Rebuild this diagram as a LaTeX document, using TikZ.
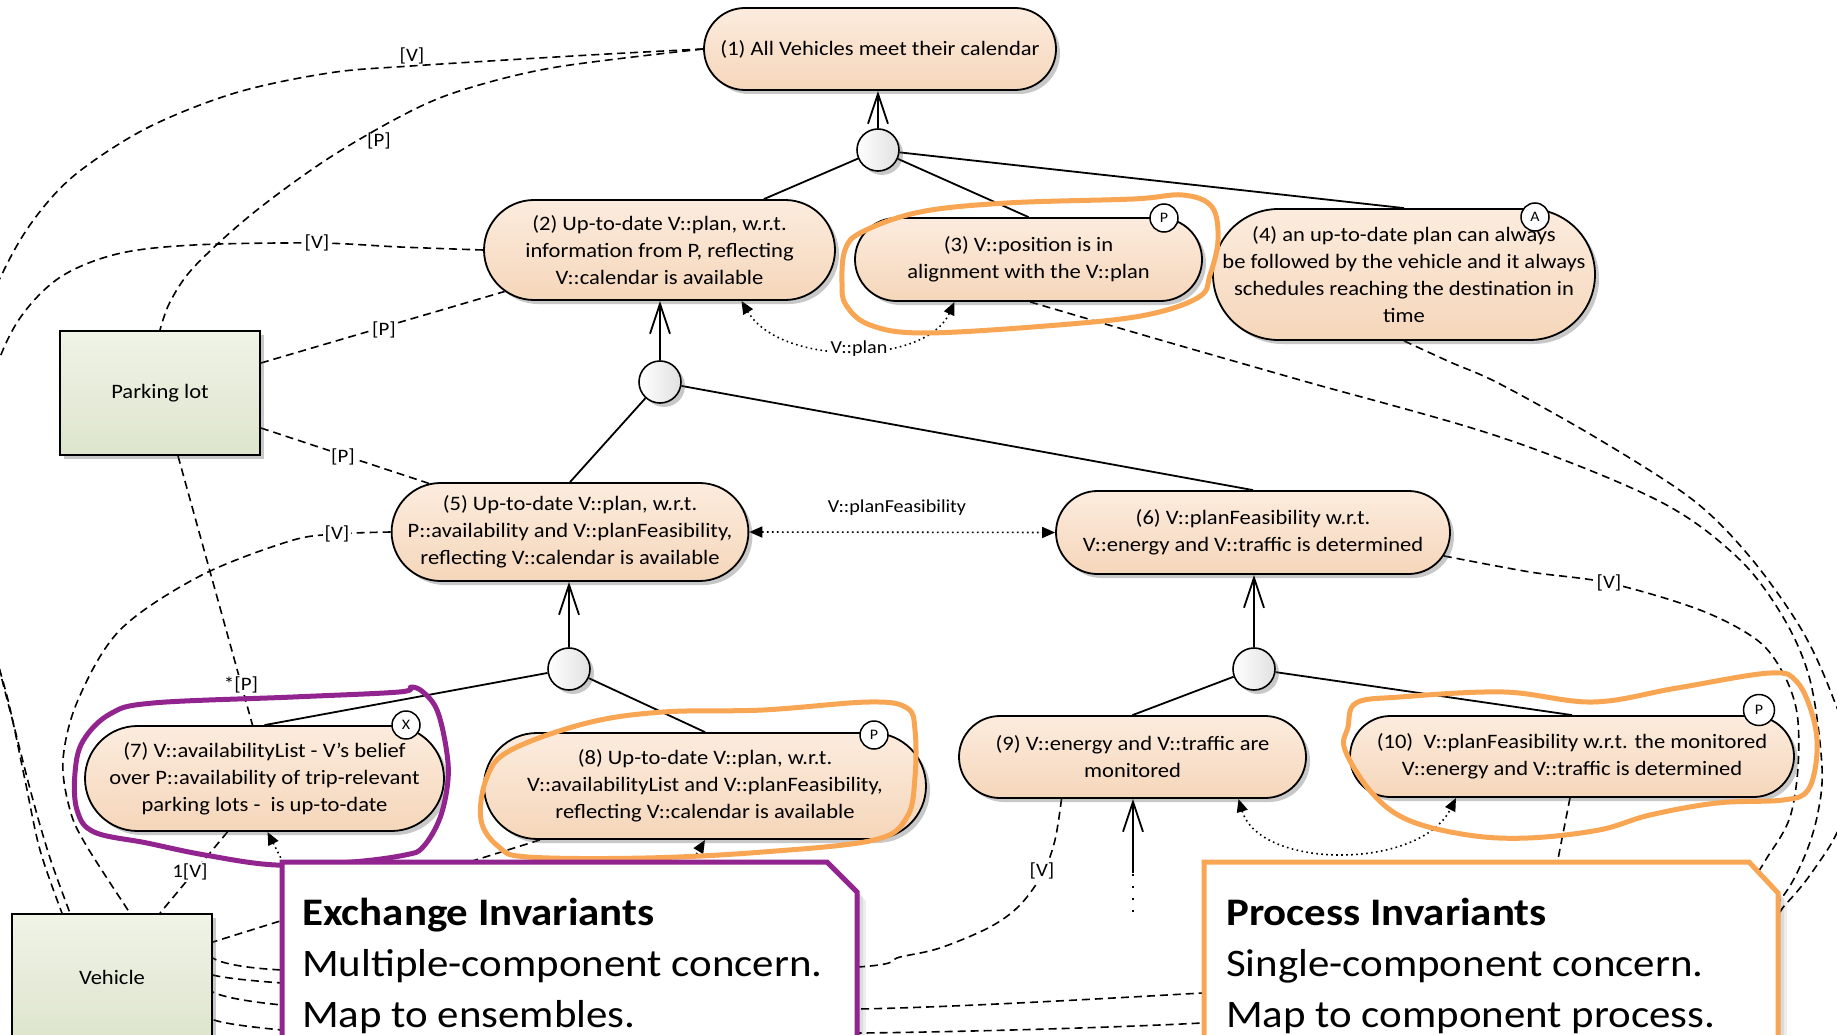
\documentclass[tikz,border=0pt]{standalone}
\usepackage{fontspec}
\setmainfont{Carlito}[FakeStretch=1.1]
\usetikzlibrary{arrows.meta,shapes.misc,shadows}

\definecolor{nodetop}{RGB}{252,236,222}
\definecolor{nodebot}{RGB}{245,214,186}
\definecolor{comptop}{RGB}{240,243,231}
\definecolor{compbot}{RGB}{221,229,205}
\definecolor{hlorange}{RGB}{248,166,84}
\definecolor{hlpurple}{RGB}{146,36,143}

\pgfdeclarelayer{canvas}
\pgfdeclarelayer{links}
\pgfsetlayers{canvas,links,main}

\tikzset{
  softshadow/.style={drop shadow={shadow xshift=4pt,shadow yshift=-4pt,opacity=.3,fill=black!70}},
  inv/.style={rounded rectangle, draw=black, line width=1.8pt, top color=nodetop, bottom color=nodebot,
    align=center, inner sep=0pt, font=\fontsize{20.5}{27}\selectfont, softshadow},
  orcirc/.style={circle, draw=black, line width=1.6pt, minimum size=42pt, inner sep=0pt,
    left color=white, right color=black!12, softshadow},
  badge/.style={circle, draw=black, line width=1.5pt, fill=white, minimum size=28pt, inner sep=0pt,
    font=\fontsize{14.5}{15}\selectfont},
  comp/.style={rectangle, draw=black, line width=1.8pt, top color=comptop, bottom color=compbot,
    minimum width=200pt, inner sep=0pt, font=\fontsize{20.5}{24}\selectfont, softshadow},
  andlink/.style={line width=1.8pt},
  refine/.style={line width=1.8pt, -{Straight Barb[length=30pt,width=20pt]}},
  vlink/.style={line width=1.6pt, dash pattern=on 8pt off 5pt},
  flow/.style={line width=1.6pt, dash pattern=on 1.6pt off 3.4pt,
    {Triangle[length=13pt,width=11pt]}-{Triangle[length=13pt,width=11pt]}},
  flowin/.style={line width=1.6pt, dash pattern=on 1.6pt off 3.4pt, -{Triangle[length=13pt,width=11pt]}},
  lbl/.style={font=\fontsize{19}{19}\selectfont, inner sep=1.5pt},
  lblw/.style={lbl, fill=white},
  slbl/.style={font=\fontsize{18.3}{18}\selectfont, inner sep=1.5pt},
  hl/.style={line width=5pt, line join=round, line cap=round},
  callout/.style={line width=5pt, fill=white, line join=miter},
  big/.style={font=\fontsize{39}{51}\selectfont, inner sep=0pt, anchor=base west},
}

\begin{document}
\begin{tikzpicture}[x=1pt,y=-1pt]
\useasboundingbox (0,0) rectangle (1837,1035);
\begin{pgfonlayer}{canvas}
  \fill[white] (0,0) rectangle (1837,1035);
\end{pgfonlayer}

% ---------------- goals ----------------
\node[inv, minimum width=352pt, minimum height=82pt] (n1) at (880,49) {(1) All Vehicles meet their calendar};
\node[inv, minimum width=351pt, minimum height=100pt] (n2) at (659.5,250) {(2) Up-to-date V::plan, w.r.t.\\information from P, reflecting\\V::calendar is available};
\node[inv, minimum width=347pt, minimum height=83pt] (n3) at (1028.5,259.5) {(3) V::position is in\\alignment with the V::plan};
\node[inv, rectangle, rounded corners=65.5pt, minimum width=382pt, minimum height=131pt] (n4) at (1404,274.5) {(4) an up-to-date plan can always\\be followed by the vehicle and it always\\schedules reaching the destination in\\time};
\node[inv, minimum width=352pt, minimum height=98pt] (n5) at (570,532) {(5) Up-to-date V::plan, w.r.t.\\P::availability and V::planFeasibility,\\reflecting V::calendar is available};
\node[inv, minimum width=394pt, minimum height=83pt] (n6) at (1253,532.5) {(6) V::planFeasibility w.r.t.\\V::energy and V::traffic is determined};
\node[inv, minimum width=359pt, minimum height=105pt] (n7) at (264.5,778.5) {(7) V::availabilityList - V’s belief\\over P::availability of trip-relevant\\parking lots - \ is up-to-date};
\node[inv, minimum width=442pt, minimum height=106pt] (n8) at (705,786) {(8) Up-to-date V::plan, w.r.t.\\V::availabilityList and V::planFeasibility,\\reflecting V::calendar is available};
\node[inv, minimum width=347pt, minimum height=82pt] (n9) at (1132.5,757) {(9) V::energy and V::traffic are\\monitored};
\node[inv, minimum width=444pt, minimum height=81pt] (n10) at (1572,756.5) {(10)\ \ V::planFeasibility w.r.t. the monitored\\V::energy and V::traffic is determined};

% ---------------- AND refinements ----------------
\node[orcirc] (or1) at (878,150) {};
\node[orcirc] (or2) at (660,382) {};
\node[orcirc] (or3) at (569,669) {};
\node[orcirc] (or4) at (1254,669) {};

% ---------------- components ----------------
\node[comp, minimum height=124pt] (pl) at (160,393) {Parking lot};
\node[comp, minimum height=126pt] (veh) at (112,977) {Vehicle};

% attachment points
\coordinate (v1) at ([xshift=-50pt]veh.north);
\coordinate (v2) at ([xshift=-42pt]veh.north);
\coordinate (v3) at ([xshift=18pt]veh.north);
\coordinate (v4) at ([xshift=48pt]veh.north);
\coordinate (r1) at ([yshift=35pt]veh.east);
\coordinate (r2) at ([yshift=19pt]veh.east);
\coordinate (r3) at ([yshift=2pt]veh.east);
\coordinate (r4) at ([yshift=-15pt]veh.east);
\coordinate (r5) at ([yshift=-37pt]veh.east);
\coordinate (p1) at ([yshift=30pt]pl.east);
\coordinate (p2) at ([yshift=-35pt]pl.east);
\coordinate (p3) at ([xshift=18pt]pl.south);
\coordinate (n3a) at ([xshift=1.5pt]n3.south);
\coordinate (n6a) at (n6.-7);
\coordinate (n7a) at ([xshift=-37pt]n7.south);
\coordinate (n7b) at ([xshift=-12pt]n7.north);
\coordinate (n8a) at ([xshift=-165pt]n8.south);
\coordinate (n9a) at ([xshift=-71pt]n9.south);
\coordinate (n10a) at ([xshift=-2pt]n10.south);
\coordinate (h10) at (1545,925);
\coordinate (h7) at (292,880);
\coordinate (h8) at (681,880);
\coordinate (c9low) at (1133,912);
\coordinate (c9mid) at (1133,873);

\begin{pgfonlayer}{links}
  % refinement tree
  \draw[refine] (or1.north) -- (or1.north |- n1.south);
  \draw[andlink] (or1) -- (n2.26.7);
  \draw[andlink] (or1) -- (n3.north);
  \draw[andlink] (or1) -- (n4.north);
  \draw[refine] (or2.north) -- (or2.north |- n2.south);
  \draw[andlink] (or2) -- (n5.north);
  \draw[andlink] (or2) -- (n6.north);
  \draw[refine] (or3.north) -- (or3.north |- n5.south);
  \draw[andlink] (or3) -- (n7.north);
  \draw[andlink] (or3) -- (n8.north);
  \draw[refine] (or4.north) -- (or4.north |- n6.south);
  \draw[andlink] (or4) -- (n9.north);
  \draw[andlink] (or4) -- (n10.north);
  \draw[line width=1.6pt, dash pattern=on 2pt off 10pt] (c9low) -- (c9mid);
  \draw[refine] (c9mid) -- (c9mid |- n9.south);

  % component links
  \draw[vlink] plot[smooth, tension=0.55] coordinates {(n1.west) (590,55) (411,66) (329,73) (235,93) (147,128) (76,174) (35,218) (5,268) (-25,340) (-42,440) (-35,540) (-12,630) (8,700) (25,780) (40,850) (v1)};
  \draw[vlink] plot[smooth, tension=0.55] coordinates {(n1.west) (557,67) (469,88) (411,111) (329,158) (252,214) (194,267) (170,302) (pl.north)};
  \draw[vlink] plot[smooth, tension=0.55] coordinates {(n2.west) (400,247) (317,243) (194,245) (117,254) (59,278) (18,321) (-8,380) (-25,460) (-22,560) (-5,650) (15,730) (33,800) (50,858) (v2)};
  \draw[vlink] (p1) -- (n2.195.8);
  \draw[vlink] (p2) -- (n5.161);
  \draw[vlink] (p3) -- (n7b);
  \draw[vlink] plot[smooth, tension=0.55] coordinates {(n5.west) (337,534) (290,541) (200,576) (120,630) (78,700) (63,760) (70,810) (86,845) (v3)};
  \draw[vlink] (n7a) -- (v4);
  \draw[vlink] (n8a) -- (r1);
  \draw[vlink] plot[smooth, tension=0.55] coordinates {(n9a) (1055,840) (1043,873) (1020,905) (990,927) (940,948) (900,957) (858,967) (600,978) (282,970) (r2)};
  \draw[vlink] plot[smooth, tension=0.55] coordinates {(n6a) (1530,572) (1609,583) (1700,610) (1757,640) (1783,673) (1797,713) (1798,767) (1790,817) (1770,853) (1740,890) (1650,940) (1450,975) (1202,993) (858,1009) (600,1003) (282,983) (r3)};
  \draw[vlink] plot[smooth, tension=0.55] coordinates {(n3a) (1150,337) (1300,380) (1500,437) (1657,500) (1737,557) (1783,617) (1810,680) (1822,767) (1817,817) (1803,860) (1780,900) (1730,950) (1500,1000) (1202,1023) (863,1033) (600,1030) (282,1005) (r4)};
  \draw[vlink] plot[smooth, tension=0.55] coordinates {(n4.south) (1450,362) (1500,384) (1600,440) (1693,500) (1750,557) (1800,627) (1830,690) (1852,760) (1840,825) (1815,868) (1785,905) (1720,970) (1400,1070) (860,1075) (282,1030) (r5)};
  \draw[vlink] (n10a) -- (h10);

  % data flows
  \draw[flow] ([xshift=-74pt]n3.south) .. controls (925,366) and (780,366) .. ([xshift=82pt]n2.south);
  \draw[flow] (n5.east) -- (n6.west);
  \draw[flow] ([xshift=106pt]n9.south) .. controls (1260,870) and (1420,870) .. ([xshift=-116pt]n10.south);
  \draw[flowin] (h7) -- ([xshift=3pt]n7.south);
  \draw[flowin] (h8) -- (n8.south);
\end{pgfonlayer}

% ---------------- labels ----------------
\node[lbl] (l1) at (412,56) {[V]};
\node[lbl] (l2) at (379,141) {[P]};
\node[lblw] (l3) at (317,243) {[V]};
\node[lblw] (l4) at (384,330) {[P]};
\node[lblw] (l5) at (343,457) {[P]};
\node[lblw] (l6) at (337,534) {[V]};
\node[lblw] (l7) at (241,685) {*[P]};
\node[lblw] (l8) at (190,872) {1[V]};
\node[lblw] (l9) at (1042,871) {[V]};
\node[lblw] (l10) at (1609,583) {[V]};
\node[slbl, fill=white] (l11) at (859,349) {V::plan};
\node[slbl] (l12) at (897,508) {V::planFeasibility};

% ---------------- badges ----------------
\node[badge] (b3) at (1164,218) {P};
\node[badge] (b4) at (1535,217) {A};
\node[badge] (b7) at (406,725) {X};
\node[badge] (b8) at (874,735) {P};
\node[badge, minimum size=31pt] (b10) at (1759,710) {P};

% ---------------- hand-drawn highlights ----------------
\draw[hl, hlpurple] plot[smooth cycle, tension=0.6] coordinates {(77,810) (75,773) (83,741) (110,714) (153,703) (293,697) (399,692) (411,687) (423,692) (437,710) (446,747) (448,780) (440,818) (423,847) (405,855) (352,862) (276,865) (205,855) (147,843) (94,832)};
\draw[hl, hlorange] plot[smooth cycle, tension=0.6] coordinates {(842,283) (845,250) (862,232) (920,212) (1007,203) (1133,199) (1183,195) (1212,207) (1218,240) (1210,275) (1199,297) (1146,315) (1058,325) (925,333) (870,325) (846,305)};
\draw[hl, hlorange] plot[smooth cycle, tension=0.6] coordinates {(487,777) (511,750) (587,723) (663,712) (763,710) (869,702) (907,708) (915,730) (915,777) (907,817) (874,840) (763,852) (645,858) (528,857) (499,847) (481,820)};
\draw[hl, hlorange] plot[smooth cycle, tension=0.6] coordinates {(1345,750) (1348,727) (1356,703) (1400,697) (1504,692) (1593,702) (1677,688) (1770,673) (1797,682) (1813,717) (1817,753) (1808,790) (1783,800) (1717,803) (1650,815) (1599,830) (1528,838) (1468,835) (1408,820) (1372,793)};

% ---------------- callouts ----------------
\foreach \s in {3,6,9}{
  \fill[black, opacity=.07] ([xshift=\s pt, yshift=-\s pt]282,862) -- ([xshift=\s pt, yshift=-\s pt]827,862) -- ([xshift=\s pt, yshift=-\s pt]857,892) -- ([xshift=\s pt]857,1060) -- (282,1060) -- cycle;
  \fill[black, opacity=.07] ([xshift=\s pt, yshift=-\s pt]1204,862) -- ([xshift=\s pt, yshift=-\s pt]1749,862) -- ([xshift=\s pt, yshift=-\s pt]1778,893) -- ([xshift=\s pt]1778,1060) -- (1204,1060) -- cycle;
}
\draw[callout, draw=hlpurple] (282,862) -- (827,862) -- (857,892) -- (857,1060) -- (282,1060) -- cycle;
\draw[callout, draw=hlorange] (1204,862) -- (1749,862) -- (1778,893) -- (1778,1060) -- (1204,1060) -- cycle;

\node[big] (e1) at (302,925) {\bfseries Exchange Invariants};
\node[big] (e2) at (302,976) {Multiple-component concern.};
\node[big] (e3) at (302,1027) {Map to ensembles.};
\node[big] (q1) at (1226,925) {\bfseries Process Invariants};
\node[big] (q2) at (1226,976) {Single-component concern.};
\node[big] (q3) at (1226,1027) {Map to component process.};
\end{tikzpicture}
\end{document}
